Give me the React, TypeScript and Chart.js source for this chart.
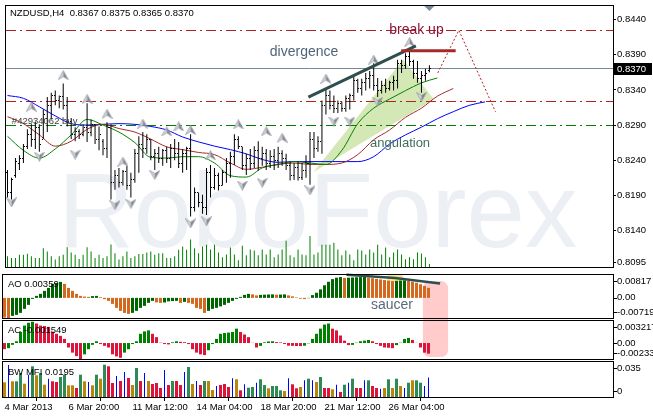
import React, { useEffect, useRef } from "react";
import { Chart, registerables } from "chart.js";

Chart.register(...registerables);

const FONT = "'Liberation Sans', Arial, sans-serif";

// ---------------- data ----------------
const titleText = "NZDUSD,H4  0.8367 0.8375 0.8365 0.8370";
const watermarkText = "RoboForex";
const xTickIndex = [0, 16, 32, 48, 64, 80, 96];
const xTickLabels = ["4 Mar 2013", "6 Mar 20:00", "11 Mar 12:00", "14 Mar 04:00", "18 Mar 20:00", "21 Mar 12:00", "26 Mar 04:00"];
const priceTicks = [0.844, 0.839, 0.834, 0.829, 0.824, 0.819, 0.814, 0.8095];

const openP = [
  0.8222, 0.8194, 0.8218, 0.8236, 0.8243, 0.8259, 0.8277, 0.827, 0.8287, 0.827,
  0.83, 0.8318, 0.8332, 0.8325, 0.833, 0.8318, 0.8295, 0.8277, 0.8281, 0.8277,
  0.8287, 0.828, 0.8291, 0.827, 0.8267, 0.8256, 0.8287, 0.8208, 0.8218, 0.8208,
  0.8224, 0.8204, 0.8212, 0.8249, 0.8263, 0.8256, 0.827, 0.8245, 0.8249, 0.8243,
  0.8254, 0.8243, 0.8256, 0.8249, 0.8236, 0.8249, 0.8256, 0.8173, 0.8194, 0.818,
  0.8173, 0.8222, 0.8201, 0.8218, 0.8204, 0.8222, 0.8236, 0.8245, 0.827, 0.8259,
  0.8232, 0.8243, 0.8236, 0.8254, 0.8243, 0.8249, 0.8236, 0.8245, 0.824, 0.8249,
  0.8243, 0.8232, 0.8218, 0.8229, 0.8215, 0.8226, 0.8236, 0.827, 0.8256, 0.8267,
  0.8318, 0.8332, 0.8318, 0.8314, 0.8321, 0.8314, 0.8328, 0.8332, 0.8353, 0.8342,
  0.835, 0.8356, 0.836, 0.8346, 0.8339, 0.8346, 0.8342, 0.835, 0.8353, 0.8378,
  0.8374, 0.8387, 0.8381, 0.8364, 0.8356, 0.836, 0.8367,
];
const highP = [
  0.8226, 0.8215, 0.8243, 0.8247, 0.8263, 0.8284, 0.8291, 0.8295, 0.8291, 0.8312,
  0.833, 0.8336, 0.8339, 0.8332, 0.8349, 0.833, 0.83, 0.8287, 0.8284, 0.8291,
  0.8321, 0.8298, 0.8291, 0.8288, 0.827, 0.8294, 0.8291, 0.8226, 0.8229, 0.8226,
  0.8232, 0.8222, 0.8256, 0.8274, 0.828, 0.8277, 0.827, 0.8256, 0.8259, 0.8256,
  0.8259, 0.8263, 0.827, 0.8266, 0.8256, 0.8259, 0.8277, 0.8201, 0.8194, 0.8191,
  0.8229, 0.8233, 0.8229, 0.8222, 0.8226, 0.8243, 0.8252, 0.8277, 0.8274, 0.8259,
  0.8249, 0.8256, 0.826, 0.8267, 0.8259, 0.8256, 0.8254, 0.8256, 0.8259, 0.8254,
  0.8249, 0.8238, 0.8236, 0.8238, 0.8236, 0.8247, 0.828, 0.828, 0.8274, 0.8325,
  0.8342, 0.8339, 0.8332, 0.8325, 0.8323, 0.8332, 0.8335, 0.836, 0.8356, 0.8356,
  0.8364, 0.8367, 0.8378, 0.8357, 0.8353, 0.8356, 0.8353, 0.836, 0.8383, 0.8383,
  0.8392, 0.8399, 0.8383, 0.8381, 0.8367, 0.837, 0.8375,
];
const lowP = [
  0.8187, 0.8184, 0.8215, 0.8226, 0.8236, 0.8256, 0.8259, 0.8256, 0.8252, 0.827,
  0.828, 0.8298, 0.8318, 0.8314, 0.8312, 0.8288, 0.827, 0.8267, 0.827, 0.8274,
  0.8266, 0.8274, 0.8263, 0.8254, 0.8247, 0.8243, 0.8184, 0.8198, 0.8201, 0.8204,
  0.8198, 0.8187, 0.8208, 0.8222, 0.8243, 0.8249, 0.824, 0.8226, 0.8236, 0.8232,
  0.8236, 0.8229, 0.824, 0.8229, 0.8222, 0.8226, 0.816, 0.8167, 0.8173, 0.8164,
  0.8162, 0.8187, 0.8198, 0.8197, 0.8204, 0.8208, 0.8215, 0.8233, 0.8256, 0.8226,
  0.8219, 0.8226, 0.8229, 0.8225, 0.8232, 0.8226, 0.8229, 0.8226, 0.8229, 0.8232,
  0.8226, 0.8211, 0.8212, 0.8211, 0.8212, 0.8215, 0.8205, 0.8243, 0.8252, 0.8249,
  0.8305, 0.8312, 0.8307, 0.8307, 0.8309, 0.8309, 0.8312, 0.8325, 0.8336, 0.8332,
  0.8339, 0.8342, 0.8339, 0.833, 0.8335, 0.8336, 0.8339, 0.8339, 0.8342, 0.8364,
  0.837, 0.8374, 0.8356, 0.835, 0.8336, 0.8353, 0.8365,
];
const closeP = [
  0.8194, 0.8212, 0.8238, 0.8243, 0.8259, 0.8277, 0.827, 0.8287, 0.8263, 0.8305,
  0.8318, 0.8332, 0.8325, 0.833, 0.8318, 0.8295, 0.8277, 0.8281, 0.8277, 0.8287,
  0.828, 0.8291, 0.827, 0.8277, 0.8256, 0.8287, 0.8208, 0.8218, 0.8208, 0.8224,
  0.8204, 0.8212, 0.8249, 0.8263, 0.8256, 0.827, 0.8245, 0.8249, 0.8243, 0.8254,
  0.8243, 0.8256, 0.8249, 0.8236, 0.8249, 0.8256, 0.8173, 0.8194, 0.818, 0.8173,
  0.8222, 0.8201, 0.8218, 0.8204, 0.8222, 0.8236, 0.8245, 0.827, 0.8259, 0.8232,
  0.8243, 0.8236, 0.8254, 0.8243, 0.8249, 0.8236, 0.8245, 0.824, 0.8249, 0.8243,
  0.8232, 0.8218, 0.8229, 0.8215, 0.8226, 0.8236, 0.827, 0.8256, 0.8267, 0.8318,
  0.8332, 0.8318, 0.8314, 0.8321, 0.8314, 0.8328, 0.8332, 0.8353, 0.8342, 0.835,
  0.8356, 0.836, 0.8346, 0.8339, 0.8346, 0.8342, 0.835, 0.8353, 0.8378, 0.8374,
  0.8387, 0.8381, 0.8364, 0.8356, 0.836, 0.8364, 0.837,
];
const volumes = [
  1100, 930, 930, 1270, 1270, 1370, 1100, 930, 930, 1930,
  1600, 1100, 770, 1100, 1270, 2030, 1500, 1270, 830, 1270,
  2030, 1600, 930, 1270, 930, 1100, 2330, 1430, 770, 1100,
  1600, 930, 1100, 1330, 1330, 1500, 1600, 1270, 1430, 1430,
  930, 930, 1100, 1770, 2100, 1770, 2830, 1930, 1430, 2100,
  2300, 1800, 2300, 1500, 1000, 1300, 2000, 1300, 700, 2200,
  1200, 1800, 1700, 1200, 1800, 1300, 1800, 1000, 1300, 1800,
  2700, 1200, 1000, 1800, 1300, 1200, 3200, 1300, 1500, 2300,
  2300, 2300, 2500, 1800, 1200, 1700, 1300, 700, 1800, 1700,
  1300, 1800, 1500, 2300, 1300, 2000, 1000, 1500, 1800, 1300,
  800, 1000, 800, 1500, 1400, 1000, 300,
];

// Alligator lines, one reading every maStep bars
const maStep = 4;
const jawValues = [0.8332, 0.8328, 0.8316, 0.8303, 0.8292, 0.829, 0.8291, 0.8292, 0.8291, 0.8288, 0.8283, 0.8273, 0.8266, 0.826, 0.8255, 0.8249, 0.8241, 0.8237, 0.8238, 0.8238, 0.8238, 0.8238, 0.8238, 0.8245, 0.8263, 0.8276, 0.8287, 0.8299, 0.8309, 0.8318, 0.8323];
const teethValues = [0.8302, 0.8292, 0.8276, 0.826, 0.8267, 0.8284, 0.8291, 0.8285, 0.828, 0.827, 0.8259, 0.8255, 0.8251, 0.8248, 0.8236, 0.8227, 0.823, 0.8234, 0.8236, 0.8234, 0.8234, 0.8236, 0.8248, 0.8269, 0.8283, 0.8301, 0.8314, 0.8331, 0.8342];
const lipsValues = [0.8274, 0.8254, 0.8243, 0.8256, 0.8276, 0.8298, 0.829, 0.828, 0.8265, 0.8244, 0.8243, 0.8245, 0.8245, 0.8236, 0.8218, 0.8216, 0.8229, 0.8234, 0.8238, 0.8236, 0.8234, 0.8254, 0.8292, 0.8314, 0.8327, 0.8339, 0.835, 0.8357];

const fractalUpIdx = [6, 14, 20, 25, 29, 34, 40, 43, 46, 51, 58, 65, 69, 80, 92, 101];
const fractalUpPrice = [0.8316, 0.8361, 0.8327, 0.8306, 0.8238, 0.8292, 0.8281, 0.8288, 0.8283, 0.8247, 0.8291, 0.8281, 0.8272, 0.8356, 0.8383, 0.8408];
const fractalDownIdx = [1, 8, 17, 27, 31, 37, 46, 50, 59, 64, 76, 82, 86, 93, 104];
const fractalDownPrice = [0.818, 0.8245, 0.8248, 0.8176, 0.8178, 0.8219, 0.815, 0.8153, 0.8204, 0.8208, 0.8197, 0.8295, 0.8295, 0.8323, 0.833];

const aoValues = [
  -0.00705, -0.00719, -0.00643, -0.00607, -0.00536, -0.00393, -0.0025, -0.00036, 0.00071, 0.00143,
  0.0025, 0.00357, 0.005, 0.00536, 0.00571, 0.005, 0.00357, 0.0025, 0.00143, 0.00071,
  0.00046, 0.00036, 0.00064, 0.00071, 0.00025, -0.00046, -0.00107, -0.00214, -0.00357, -0.00464,
  -0.00536, -0.00571, -0.00536, -0.00464, -0.00357, -0.00286, -0.00179, -0.00107, -0.00161, -0.00179,
  -0.00164, -0.00125, -0.00114, -0.00107, -0.00179, -0.00143, -0.00179, -0.00214, -0.00357, -0.00393,
  -0.00536, -0.00464, -0.00393, -0.00357, -0.00304, -0.0025, -0.00179, -0.00107, -0.00036, 0.00036,
  0.00107, 0.00143, 0.00125, 0.00089, 0.00107, 0.00114, 0.00121, 0.00125, 0.00114, 0.00118,
  0.00125, 0.00089, 0.00054, 0.00018, -0.00029, -0.00043, -0.00011, 0.00099, 0.00183, 0.00304,
  0.0045, 0.00575, 0.0067, 0.00721, 0.00743, 0.00714, 0.00721, 0.00728, 0.00736, 0.00743,
  0.00747, 0.00725, 0.00703, 0.00681, 0.00659, 0.00637, 0.00615, 0.00597, 0.00608, 0.00619,
  0.00626, 0.00604, 0.00578, 0.00542, 0.00487, 0.00425, 0.00359,
];
const acValues = [
  -0.0009, -0.00075, -0.00026, 0.00026, 0.00161, 0.00255, 0.00296, 0.00311, 0.00285, 0.00255,
  0.00248, 0.00236, 0.00165, 0.00135, 0.00105, 0.0006, -0.00065, -0.0014, -0.00191, -0.00233,
  -0.00165, -0.0009, -0.00026, 0.00026, -0.00015, -0.00041, -0.00065, -0.00165, -0.00195, -0.00215,
  -0.0014, -0.0009, -0.00015, 0.00026, 0.00135, 0.0017, 0.00185, 0.00135, 0.00086, 0.00005,
  -0.00015, -0.0002, 0.00011, 0.00026, 0.00018, 0.00012, -0.00015, -0.0009, -0.0014, -0.00165,
  -0.00176, -0.00105, -0.00015, 0.0006, 0.00135, 0.00146, 0.00153, 0.00161, 0.0021, 0.00161,
  0.00125, 0.00086, 0.00003, -0.00065, -0.00041, 0.00011, 0.00023, 0.00026, 0.00014, 0.00009,
  -0.00015, -0.00038, -0.00041, -0.00044, -0.00045, -0.00039, -0.00005, 0.0006, 0.00135, 0.0021,
  0.0027, 0.00285, 0.0021, 0.00185, 0.0011, 0.00035, -0.0003, -0.00027, 0.00005, 0.00026,
  0.00035, 0.00045, 0.00026, -0.00015, -0.00041, -0.00065, -0.00069, -0.00075, -0.0003, 0.00005,
  0.0006, 0.00075, 0.00045, 0.00003, -0.00065, -0.0014, -0.001549,
];
const mfiValues = [
  0.0147, 0.032, 0.0157, 0.0157, 0.024, 0.0133, 0.0223, 0.0307, 0.0217, 0.024,
  0.0123, 0.0183, 0.0157, 0.015, 0.02, 0.0223, 0.0117, 0.0117, 0.009, 0.0223,
  0.0157, 0.015, 0.0117, 0.0223, 0.0183, 0.0323, 0.0307, 0.014, 0.021, 0.016,
  0.025, 0.019, 0.012, 0.029, 0.016, 0.024, 0.016, 0.013, 0.014, 0.009,
  0.027, 0.012, 0.016, 0.016, 0.012, 0.025, 0.03, 0.013, 0.016, 0.012,
  0.016, 0.016, 0.007, 0.011, 0.012, 0.013, 0.01, 0.0187, 0.0177, 0.0067,
  0.0127, 0.0093, 0.01, 0.0143, 0.0177, 0.012, 0.0087, 0.011, 0.011, 0.0067,
  0.006, 0.0187, 0.0127, 0.0087, 0.01, 0.0167, 0.0183, 0.0167, 0.015, 0.02,
  0.009, 0.009, 0.0077, 0.0123, 0.005, 0.0123, 0.0143, 0.0183, 0.009, 0.009,
  0.0167, 0.0167, 0.011, 0.009, 0.0083, 0.009, 0.0177, 0.009, 0.0183, 0.011,
  0.009, 0.0143, 0.0167, 0.0167, 0.0143, 0.011, 0.0195,
];
// g = green, b = fade (brown), p = squat (pink), f = fake (blue)
const mfiKinds =
  "bfbggbfgbg" + "bfppggbbpg" + "bfbgbgppfp" + "fpbgpfbppp" + "fpgppfgbfp" +
  "gbbfpppfbp" + "fggfggbggg" + "bfppbfgfbg" + "ppbfpgfgpp" + "fgppfbgbgb" + "fgbggff";

const aoTicks = [0.00817, 0, -0.00719];
const aoTickLabels = ["0.00817", "0.00", "-0.00719"];
const acTicks = [0.003217, 0, -0.00233];
const acTickLabels = ["0.003217", "0.00", "-0.00233"];
const mfiTicks = [0.035, 0];
const mfiTickLabels = ["0.035", "0"];

// horizontal levels on the price chart
const levelPrices = [0.8424, 0.8324, 0.829, 0.837];
const levelColors = ["#B22222", "#B22222", "#008000", "#778899"];
const levelDashed = [true, true, true, false];

// drawn objects (bar index, price / indicator value)
const divergenceIdx = [75.6, 102.6];
const divergencePrice = [0.83296, 0.84027];
const breakUpIdx = [98.9, 112.6];
const breakUpPrice = 0.83958;
const forecastIdx = [108.1, 113.4, 122.6];
const forecastPrice = [0.83641, 0.84248, 0.83089];
const wedgeIdx = [76.9, 99.4, 107.1];
const wedgePrice = [0.82233, 0.83834, 0.83268];
const noteTexts = ["divergence", "break up", "angulation"];
const noteIdx = [65.9, 95.9, 91.1];
const notePrice = [0.83931, 0.84248, 0.82634];
const noteColors = ["#4F6478", "#8B1538", "#3F6F5A"];
const noteSizes = [14, 14, 13];
const orderText = "#42934062 buy";
const orderIdx = 1.1;
const orderPrice = 0.82955;
const saucerLineIdx = [85.5, 97.6, 108.9];
const saucerLineAO = [0.0083, 0.0071, 0.0051];
const saucerText = "saucer";
const saucerIdx = 91.6;
const saucerAO = -0.0025;
const highlightIdx = [95.6, 99.6];
const highlightAO = [0.0085, 0.0057];
const boxIdx = [104.6, 110.9];
const boxAOTop = 0.006;
const boxACBottom = -0.00204;

// ---------------- layout constants ----------------
const X_MIN = -0.375;
const X_MAX = 152.125;
const PRICE_MIN = 0.80881;
const PRICE_MAX = 0.845932;
const VOL_MAX = 26900;
const AXIS_W = 40;

const barIdx = openP.map((_, i) => i);

function makeArrow(up: boolean) {
  const c = document.createElement("canvas");
  c.width = 11;
  c.height = 10;
  const g = c.getContext("2d") as CanvasRenderingContext2D;
  const tip = up ? 0.5 : 9.5;
  const base = up ? 9.5 : 0.5;
  const notch = up ? 6.5 : 3.5;
  g.fillStyle = "#D0D3DA";
  g.beginPath();
  g.moveTo(5.5, tip);
  g.lineTo(0.5, base);
  g.lineTo(5.5, notch);
  g.closePath();
  g.fill();
  g.fillStyle = "#80858E";
  g.beginPath();
  g.moveTo(5.5, tip);
  g.lineTo(5.5, notch);
  g.lineTo(10.5, base);
  g.closePath();
  g.fill();
  g.strokeStyle = "#9A9EA6";
  g.lineWidth = 0.8;
  g.beginPath();
  g.moveTo(5.5, tip);
  g.lineTo(0.5, base);
  g.lineTo(5.5, notch);
  g.lineTo(10.5, base);
  g.closePath();
  g.stroke();
  return c;
}

function xAxis(show: boolean) {
  return {
    type: "linear",
    min: X_MIN,
    max: X_MAX,
    offset: false,
    bounds: "data",
    display: show,
    position: "bottom",
    afterBuildTicks: (s: any) => {
      s.ticks = xTickIndex.map((v) => ({ value: v }));
    },
    afterFit: (s: any) => {
      s.height = show ? 19 : 0;
      s.paddingLeft = 0;
      s.paddingRight = 0;
    },
    ticks: {
      autoSkip: false,
      maxRotation: 0,
      minRotation: 0,
      align: "start",
      padding: 1,
      color: "#000",
      font: { family: FONT, size: 9.5 },
      callback: (v: any) => {
        const k = xTickIndex.indexOf(Number(v));
        return k >= 0 ? xTickLabels[k] : "";
      },
    },
    grid: { display: true, drawOnChartArea: false, drawTicks: true, tickLength: 4, color: "#000", lineWidth: 1 },
    border: { display: false },
  };
}

function panelY(min: number, max: number) {
  return {
    type: "linear",
    position: "right",
    min,
    max,
    bounds: "data",
    display: true,
    afterFit: (s: any) => {
      s.width = AXIS_W;
      s.paddingTop = 0;
      s.paddingBottom = 0;
    },
    ticks: { display: false },
    grid: { display: false },
    border: { display: false },
  };
}

function baseOptions(padding: any, scales: any) {
  return {
    responsive: false,
    animation: false,
    devicePixelRatio: 1,
    events: [],
    layout: { padding },
    plugins: { legend: { display: false }, tooltip: { enabled: false } },
    scales,
  };
}

function drawFrame(ctx: any, a: any) {
  ctx.save();
  ctx.setLineDash([]);
  ctx.strokeStyle = "#000";
  ctx.lineWidth = 1;
  ctx.strokeRect(a.left - 0.5, a.top - 0.5, a.right - a.left + 1, a.bottom - a.top + 1);
  ctx.restore();
}

function panelPlugin(id: string, title: string, titleDy: number, ticks: number[], labels: string[], before?: any, after?: any) {
  return {
    id,
    beforeDatasetsDraw(chart: any) {
      if (before) before(chart);
    },
    afterDatasetsDraw(chart: any) {
      if (after) after(chart);
    },
    afterDraw(chart: any) {
      const { ctx, chartArea: a } = chart;
      const ys = chart.scales.y;
      drawFrame(ctx, a);
      ctx.save();
      ctx.font = `9.5px ${FONT}`;
      ctx.fillStyle = "#000";
      ctx.textBaseline = "middle";
      ctx.textAlign = "left";
      ctx.fillText(title, a.left + 5, a.top + titleDy);
      ticks.forEach((v, k) => {
        const py = ys.getPixelForValue(v);
        const ly = Math.min(Math.max(py, a.top + 6), a.bottom - 6);
        ctx.fillRect(a.right + 1, Math.round(ly), 3, 1);
        ctx.fillText(labels[k], a.right + 4, ly);
      });
      ctx.restore();
    },
  };
}

function pinkBox(chart: any, isAO: boolean) {
  const { ctx } = chart;
  const xs = chart.scales.x;
  const ys = chart.scales.y;
  const x1 = xs.getPixelForValue(boxIdx[0]);
  const x2 = xs.getPixelForValue(boxIdx[1]);
  ctx.save();
  ctx.fillStyle = "rgba(255,130,130,0.42)";
  ctx.beginPath();
  if (isAO) {
    const y1 = ys.getPixelForValue(boxAOTop);
    ctx.roundRect(x1, y1, x2 - x1, chart.height - y1 + 14, 7);
  } else {
    const y2 = ys.getPixelForValue(boxACBottom);
    ctx.roundRect(x1, -14, x2 - x1, y2 + 14, 7);
  }
  ctx.fill();
  ctx.restore();
}

const mainDecor = {
  id: "mainDecor",
  beforeDatasetsDraw(chart: any) {
    const { ctx, chartArea: a } = chart;
    const xs = chart.scales.x;
    const ys = chart.scales.y;
    ctx.save();
    ctx.beginPath();
    ctx.rect(a.left, a.top, a.right - a.left, a.bottom - a.top);
    ctx.clip();
    // watermark
    ctx.fillStyle = "#ECF0F4";
    ctx.font = `105px ${FONT}`;
    ctx.textAlign = "left";
    ctx.textBaseline = "alphabetic";
    ctx.fillText(watermarkText, a.left + 52, a.bottom - 20);
    // angulation wedge
    ctx.fillStyle = "rgba(160,205,90,0.45)";
    ctx.beginPath();
    wedgeIdx.forEach((v, k) => {
      const px = xs.getPixelForValue(v);
      const py = ys.getPixelForValue(wedgePrice[k]);
      if (k === 0) ctx.moveTo(px, py);
      else ctx.lineTo(px, py);
    });
    ctx.closePath();
    ctx.fill();
    // levels
    ctx.lineWidth = 1;
    levelPrices.forEach((p, k) => {
      const y = Math.floor(ys.getPixelForValue(p)) + 0.5;
      ctx.strokeStyle = levelColors[k];
      ctx.setLineDash(levelDashed[k] ? [10, 4, 2, 4] : []);
      ctx.beginPath();
      ctx.moveTo(a.left, y);
      ctx.lineTo(a.right, y);
      ctx.stroke();
    });
    ctx.restore();
  },
  afterDatasetsDraw(chart: any) {
    const { ctx, chartArea: a } = chart;
    const xs = chart.scales.x;
    const ys = chart.scales.y;
    ctx.save();
    ctx.beginPath();
    ctx.rect(a.left, a.top, a.right - a.left, a.bottom - a.top);
    ctx.clip();
    // open / close ticks of the OHLC bars
    ctx.fillStyle = "#000";
    barIdx.forEach((i) => {
      const x = Math.round(xs.getPixelForValue(i) - 0.5);
      const yo = Math.round(ys.getPixelForValue(openP[i]) - 0.5);
      const yc = Math.round(ys.getPixelForValue(closeP[i]) - 0.5);
      ctx.fillRect(x - 1, yo, 1, 1);
      ctx.fillRect(x + 1, yc, 1, 1);
    });
    // divergence trend line
    ctx.setLineDash([]);
    ctx.strokeStyle = "#2F4F4F";
    ctx.lineWidth = 3;
    ctx.beginPath();
    ctx.moveTo(xs.getPixelForValue(divergenceIdx[0]), ys.getPixelForValue(divergencePrice[0]));
    ctx.lineTo(xs.getPixelForValue(divergenceIdx[1]), ys.getPixelForValue(divergencePrice[1]));
    ctx.stroke();
    // break-up level
    ctx.strokeStyle = "#A52A2A";
    ctx.lineWidth = 3;
    const by = ys.getPixelForValue(breakUpPrice);
    ctx.beginPath();
    ctx.moveTo(xs.getPixelForValue(breakUpIdx[0]), by);
    ctx.lineTo(xs.getPixelForValue(breakUpIdx[1]), by);
    ctx.stroke();
    // forecast zigzag
    ctx.strokeStyle = "#B22222";
    ctx.lineWidth = 1;
    ctx.setLineDash([2, 2]);
    ctx.beginPath();
    forecastIdx.forEach((v, k) => {
      const px = xs.getPixelForValue(v);
      const py = ys.getPixelForValue(forecastPrice[k]);
      if (k === 0) ctx.moveTo(px, py);
      else ctx.lineTo(px, py);
    });
    ctx.stroke();
    ctx.setLineDash([]);
    // text notes
    ctx.textAlign = "left";
    ctx.textBaseline = "middle";
    noteTexts.forEach((t, k) => {
      ctx.font = `${noteSizes[k]}px ${FONT}`;
      ctx.fillStyle = noteColors[k];
      ctx.fillText(t, xs.getPixelForValue(noteIdx[k]), ys.getPixelForValue(notePrice[k]));
    });
    ctx.font = `9.5px ${FONT}`;
    ctx.fillStyle = "#3C3C3C";
    ctx.fillText(orderText, xs.getPixelForValue(orderIdx), ys.getPixelForValue(orderPrice));
    ctx.restore();
  },
  afterDraw(chart: any) {
    const { ctx, chartArea: a } = chart;
    const xs = chart.scales.x;
    const ys = chart.scales.y;
    drawFrame(ctx, a);
    ctx.save();
    ctx.font = `9.5px ${FONT}`;
    ctx.fillStyle = "#000";
    ctx.textAlign = "left";
    ctx.textBaseline = "middle";
    ctx.fillText(titleText, a.left + 4, a.top + 7);
    // current price tag
    const last = closeP[closeP.length - 1];
    const py = Math.round(ys.getPixelForValue(last));
    ctx.fillStyle = "#000";
    ctx.fillRect(a.right + 1, py - 6, 38, 12);
    ctx.fillStyle = "#fff";
    ctx.fillText(last.toFixed(4), a.right + 4, py);
    // shift marker above the last bar
    const lx = xs.getPixelForValue(barIdx.length - 1);
    ctx.fillStyle = "#7F8A96";
    ctx.beginPath();
    ctx.moveTo(lx - 5, a.top);
    ctx.lineTo(lx + 5, a.top);
    ctx.lineTo(lx, a.top + 5);
    ctx.closePath();
    ctx.fill();
    ctx.restore();
  },
};

export default function App() {
  const mainRef = useRef<HTMLCanvasElement>(null);
  const aoRef = useRef<HTMLCanvasElement>(null);
  const acRef = useRef<HTMLCanvasElement>(null);
  const mfiRef = useRef<HTMLCanvasElement>(null);

  useEffect(() => {
    const upArrow = makeArrow(true);
    const downArrow = makeArrow(false);
    const charts: any[] = [];

    // ---- price chart ----
    charts.push(
      new Chart(mainRef.current as HTMLCanvasElement, {
        type: "bar",
        data: {
          datasets: [
            {
              type: "scatter",
              data: fractalUpIdx.map((x, k) => ({ x, y: fractalUpPrice[k] })),
              pointStyle: upArrow,
              pointRadius: 5,
              order: 0,
            },
            {
              type: "scatter",
              data: fractalDownIdx.map((x, k) => ({ x, y: fractalDownPrice[k] })),
              pointStyle: downArrow,
              pointRadius: 5,
              order: 0,
            },
            {
              type: "bar",
              data: barIdx.map((i) => ({ x: i, y: [lowP[i], highP[i]] })),
              backgroundColor: "#000",
              barThickness: 1,
              grouped: false,
              inflateAmount: 0,
              borderWidth: 0,
              order: 1,
            },
            {
              type: "line",
              data: lipsValues.map((v, k) => ({ x: k * maStep, y: v })),
              borderColor: "#008000",
              borderWidth: 1,
              pointRadius: 0,
              cubicInterpolationMode: "monotone",
              order: 2,
            },
            {
              type: "line",
              data: teethValues.map((v, k) => ({ x: k * maStep, y: v })),
              borderColor: "#A52A2A",
              borderWidth: 1,
              pointRadius: 0,
              cubicInterpolationMode: "monotone",
              order: 3,
            },
            {
              type: "line",
              data: jawValues.map((v, k) => ({ x: k * maStep, y: v })),
              borderColor: "#0000FF",
              borderWidth: 1,
              pointRadius: 0,
              cubicInterpolationMode: "monotone",
              order: 4,
            },
            {
              type: "bar",
              yAxisID: "yVol",
              data: barIdx.map((i) => ({ x: i, y: volumes[i] })),
              backgroundColor: "#008000",
              barThickness: 1,
              grouped: false,
              inflateAmount: 0,
              borderWidth: 0,
              order: 5,
            },
          ],
        },
        options: baseOptions({ left: 3, right: 0, top: 3, bottom: 1 }, {
          x: xAxis(false),
          y: {
            type: "linear",
            position: "right",
            min: PRICE_MIN,
            max: PRICE_MAX,
            bounds: "data",
            afterBuildTicks: (s: any) => {
              s.ticks = priceTicks.map((v) => ({ value: v }));
            },
            afterFit: (s: any) => {
              s.width = AXIS_W;
              s.paddingTop = 0;
              s.paddingBottom = 0;
            },
            ticks: {
              autoSkip: false,
              padding: 1,
              color: "#000",
              font: { family: FONT, size: 9.5 },
              callback: (v: any) => Number(v).toFixed(4),
            },
            grid: { display: true, drawOnChartArea: false, drawTicks: true, tickLength: 3, color: "#000", lineWidth: 1 },
            border: { display: false },
          },
          yVol: { type: "linear", display: false, min: 0, max: VOL_MAX },
        }),
        plugins: [mainDecor],
      } as any)
    );

    // ---- AO ----
    const aoColors = aoValues.map((v, i) => (i > 0 && v > aoValues[i - 1] ? "#006400" : "#D2691E"));
    charts.push(
      new Chart(aoRef.current as HTMLCanvasElement, {
        type: "bar",
        data: {
          datasets: [
            {
              data: aoValues.map((v, i) => ({ x: i, y: v })),
              backgroundColor: aoColors,
              barThickness: 3,
              grouped: false,
              inflateAmount: 0,
              borderWidth: 0,
            },
          ],
        },
        options: baseOptions({ left: 3, right: 0, top: 2, bottom: 2 }, {
          x: xAxis(false),
          y: panelY(aoTicks[2], aoTicks[0]),
        }),
        plugins: [
          panelPlugin(
            "aoPanel",
            `AO ${aoValues[aoValues.length - 1].toFixed(5)}`,
            9,
            aoTicks,
            aoTickLabels,
            (chart: any) => {
              pinkBox(chart, true);
              const { ctx } = chart;
              const xs = chart.scales.x;
              const ys = chart.scales.y;
              const x1 = xs.getPixelForValue(highlightIdx[0]);
              const x2 = xs.getPixelForValue(highlightIdx[1]);
              const y1 = ys.getPixelForValue(highlightAO[0]);
              const y2 = ys.getPixelForValue(highlightAO[1]);
              ctx.save();
              ctx.fillStyle = "#FBE58A";
              ctx.beginPath();
              ctx.roundRect(x1, y1, x2 - x1, y2 - y1, 3);
              ctx.fill();
              ctx.restore();
            },
            (chart: any) => {
              const { ctx } = chart;
              const xs = chart.scales.x;
              const ys = chart.scales.y;
              ctx.save();
              ctx.strokeStyle = "#2F4F4F";
              ctx.lineWidth = 2.5;
              ctx.beginPath();
              saucerLineIdx.forEach((v, k) => {
                const px = xs.getPixelForValue(v);
                const py = ys.getPixelForValue(saucerLineAO[k]);
                if (k === 0) ctx.moveTo(px, py);
                else ctx.lineTo(px, py);
              });
              ctx.stroke();
              ctx.font = `14px ${FONT}`;
              ctx.fillStyle = "#5A6A7A";
              ctx.textAlign = "left";
              ctx.textBaseline = "middle";
              ctx.fillText(saucerText, xs.getPixelForValue(saucerIdx), ys.getPixelForValue(saucerAO));
              ctx.restore();
            }
          ),
        ],
      } as any)
    );

    // ---- AC ----
    const acColors = acValues.map((v, i) => (i > 0 && v > acValues[i - 1] ? "#008000" : "#DC143C"));
    charts.push(
      new Chart(acRef.current as HTMLCanvasElement, {
        type: "bar",
        data: {
          datasets: [
            {
              data: acValues.map((v, i) => ({ x: i, y: v })),
              backgroundColor: acColors,
              barThickness: 3,
              grouped: false,
              inflateAmount: 0,
              borderWidth: 0,
            },
          ],
        },
        options: baseOptions({ left: 3, right: 0, top: 1, bottom: 1 }, {
          x: xAxis(false),
          y: panelY(acTicks[2], acTicks[0]),
        }),
        plugins: [
          panelPlugin(
            "acPanel",
            `AC ${acValues[acValues.length - 1].toFixed(6)}`,
            9,
            acTicks,
            acTickLabels,
            (chart: any) => pinkBox(chart, false)
          ),
        ],
      } as any)
    );

    // ---- BW MFI ----
    const mfiColor: any = { g: "#2E8B57", b: "#B8860B", p: "#DC143C", f: "#0000FF" };
    charts.push(
      new Chart(mfiRef.current as HTMLCanvasElement, {
        type: "bar",
        data: {
          datasets: ["g", "b", "p", "f"].map((kind) => ({
            data: barIdx.filter((i) => mfiKinds[i] === kind).map((i) => ({ x: i, y: mfiValues[i] })),
            backgroundColor: mfiColor[kind],
            barThickness: kind === "f" ? 1 : 3,
            grouped: false,
            inflateAmount: 0,
            borderWidth: 0,
          })),
        },
        options: baseOptions({ left: 3, right: 0, top: 2, bottom: 0 }, {
          x: xAxis(true),
          y: panelY(0, mfiTicks[0]),
        }),
        plugins: [
          panelPlugin(
            "mfiPanel",
            `BW MFI ${mfiValues[mfiValues.length - 1].toFixed(4)}`,
            10,
            mfiTicks,
            mfiTickLabels
          ),
        ],
      } as any)
    );

    return () => charts.forEach((c) => c.destroy());
  }, []);

  const canvasStyle = (top: number, height: number): React.CSSProperties => ({
    position: "absolute",
    left: 0,
    top,
    width: 653,
    height,
  });

  return (
    <div style={{ position: "absolute", left: 0, top: 0, width: 653, height: 416, background: "#fff", overflow: "hidden" }}>
      <canvas ref={mainRef} width={653} height={273} style={canvasStyle(0, 273)} />
      <canvas ref={aoRef} width={653} height={47} style={canvasStyle(273, 47)} />
      <canvas ref={acRef} width={653} height={40} style={canvasStyle(320, 40)} />
      <canvas ref={mfiRef} width={653} height={56} style={canvasStyle(360, 56)} />
    </div>
  );
}
